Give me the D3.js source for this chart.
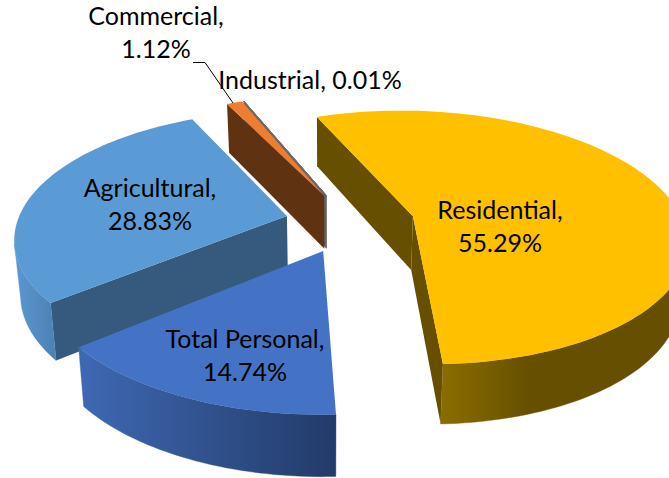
<!DOCTYPE html>
<html><head><meta charset="utf-8">
<script src="https://cdn.jsdelivr.net/npm/d3@7"></script>
<style>html,body{margin:0;padding:0;background:#fff;overflow:hidden}svg{display:block}text{font-family:Lato,"Open Sans",sans-serif;font-size:25px;fill:#000}</style>
</head><body><div id="c"></div>
<script>
// data
const categories=["Residential","Total Personal","Agricultural","Commercial","Industrial"];
const shares=[55.29,14.74,28.83,1.12,0.01];
const shareLabels=["55.29%","14.74%","28.83%","1.12%","0.01%"];
const topColors=["#FFC000","#4472C4","#5B9BD5","#ED7D31","#A5A5A5"];
const wallColors=["#665000","#294677","#355A7E","#5F3312","#636363"];

// layout
const W=669,H=478,cx=350,cy=222.5,horizonY=-525,camD=1610,R=270,explode=65,thick=54,bottomShrink=.98,skewX=22;
const startDeg=-21.4;
const A=cy-horizonY;
const rad=d3.scaleLinear().domain([0,1]).range([0,R]);
const toRad=d=>d*Math.PI/180;
const pie=d3.pie().sort(null).value(d=>d).startAngle(toRad(startDeg)).endAngle(toRad(startDeg+360));
const arcs=pie(shares);
const svg=d3.select("#c").append("svg").attr("width",W).attr("height",H);
const defs=svg.append("defs");
function grad(id,x1,x2,stops){
  const g=defs.append("linearGradient").attr("id",id).attr("gradientUnits","userSpaceOnUse")
    .attr("x1",x1).attr("x2",x2).attr("y1",0).attr("y2",0);
  stops.forEach(s=>g.append("stop").attr("offset",s[0]).attr("stop-color",s[1]));
  return `url(#${id})`;
}
const rimFill=[
  grad("g0",442,669,[[0,"#8A6D00"],[.38,"#665000"],[1,"#665000"]]),
  grad("g1",83,333,[[0,"#3E68B2"],[1,"#233B69"]]),
  grad("g2",14,60,[[0,"#5B98D2"],[1,"#4A7FB0"]]),
  wallColors[3],wallColors[4]];
const line=d3.line();
function proj(p,bottom){
  const f=1/(1-p[1]/camD);
  const x=cx-skewX+(p[0]+skewX)*f*(bottom?bottomShrink:1);
  const y=horizonY+A*f+(bottom?thick*Math.pow(f,.6):0);
  return [x,y];
}
function dir(a){return [Math.sin(a),-Math.cos(a)];}
function facing(n,p){return n[0]*(-p[0])+n[1]*(camD-p[1])>0;}
function sliceGeo(d){
  const mid=(d.startAngle+d.endAngle)/2, m=dir(mid);
  const apex=[explode*m[0],explode*m[1]];
  const n=Math.max(2,Math.ceil((d.endAngle-d.startAngle)/toRad(1.5)));
  const angles=d3.range(n+1).map(i=>d.startAngle+(d.endAngle-d.startAngle)*i/n);
  const rim=angles.map(a=>{const u=dir(a);return [apex[0]+rad(1)*u[0],apex[1]+rad(1)*u[1]];});
  return {apex,rim,angles};
}
function drawSlice(i){
  const d=arcs[i],g=sliceGeo(d);
  const top=g.rim.map(p=>proj(p,false)), bot=g.rim.map(p=>proj(p,true));
  const aT=proj(g.apex,false), aB=proj(g.apex,true);
  const s=svg.append("g");
  const strokeOpt=i===4?{stroke:"#6f6f6f",w:1}:{stroke:"none",w:0};
  const poly=(pts,fill)=>s.append("path").attr("d",line(pts)+"Z").attr("fill",fill)
      .attr("stroke",strokeOpt.stroke).attr("stroke-width",strokeOpt.w);
  const last=g.rim.length-1;
  // radial faces, drawn only if they turn towards the camera
  if(facing(dir(d.startAngle-Math.PI/2),g.apex)) poly([aT,top[0],bot[0],aB],wallColors[i]);
  if(facing(dir(d.endAngle+Math.PI/2),g.apex)) poly([aT,top[last],bot[last],aB],wallColors[i]);
  // outer rim: runs of segments facing the camera
  let run=[];
  const flush=()=>{ if(run.length>1){
      const t=run.map(k=>top[k]),b=run.map(k=>bot[k]).reverse();
      s.append("path").attr("d",line(t.concat(b))+"Z").attr("fill",rimFill[i]).attr("stroke",rimFill[i]).attr("stroke-width",.4);
    } run=[]; };
  g.angles.forEach((a,k)=>{ if(facing(dir(a),g.rim[k])) run.push(k); else flush(); });
  flush();
  poly([aT].concat(top),topColors[i]);
}
[4,3,2,0,1].forEach(drawSlice);

// leader line
svg.append("path").attr("d",line([[193,62.5],[205,62.5],[233,103]])).attr("fill","none").attr("stroke","#000").attr("stroke-width",1);

// labels
const labelLayout=[
 {x:500,y:[219,252]},
 {x:245,y:[348,381]},
 {x:150,y:[197,230]},
 {x:156,y:[25,58]},
 {x:310,y:[89]}];
categories.forEach((c,i)=>{
  const L=labelLayout[i];
  const lines=L.y.length===2?[c+",",shareLabels[i]]:[c+", "+shareLabels[i]];
  lines.forEach((t,j)=>svg.append("text").attr("x",L.x).attr("y",L.y[j]).attr("text-anchor","middle").text(t));
});
</script></body></html>
